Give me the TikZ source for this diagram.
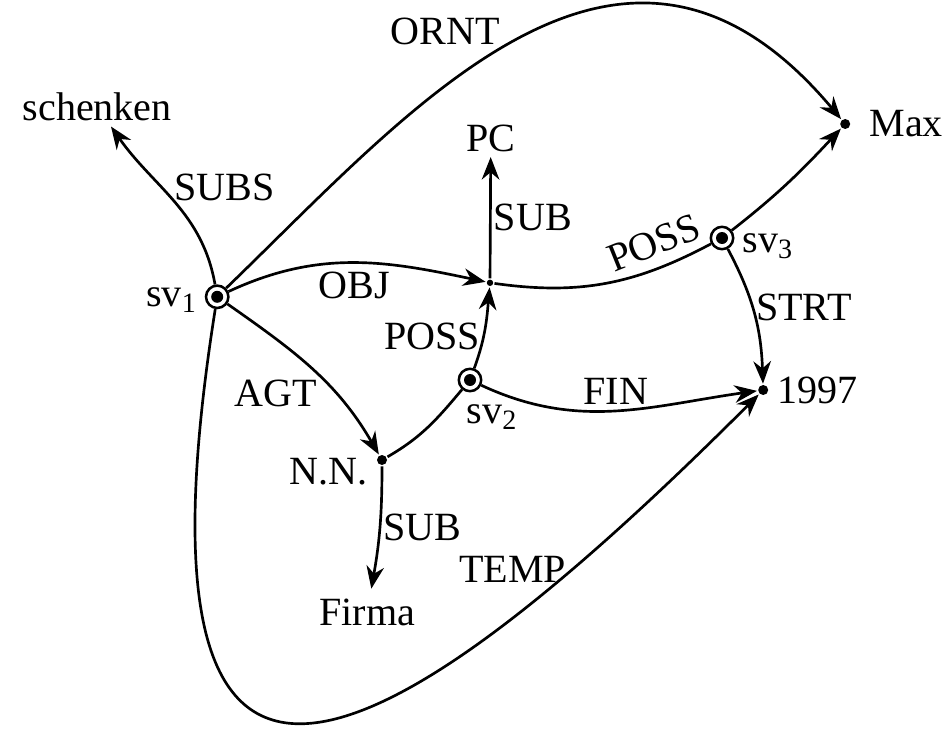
\documentclass[tikz,border=0pt]{standalone}
\usepackage{fontspec}
\setmainfont{Liberation Serif}
\usetikzlibrary{positioning,arrows.meta}

\tikzset{
  sv/.style={circle, draw, line width=1.8pt, minimum size=0.56cm, inner sep=0pt,
    path picture={\fill (path picture bounding box.center) circle (0.15cm);}},
  pnt/.style={circle, fill, minimum size=0.25cm, inner sep=0pt},
  txt/.style={inner sep=2pt, outer sep=2pt},
  lab/.style={inner sep=1.5pt},
}

\begin{document}
\begin{tikzpicture}[line width=1.9pt, >={Stealth[length=16pt,width=12.5pt]},
  font=\fontsize{28.5}{34}\selectfont]
  \useasboundingbox (0,0) rectangle (23.675,18.2);

  % --- semantic nodes ---
  \node[sv] (sv1) at (5.43,10.78) {};
  \node[sv] (sv2) at (11.75,8.7) {};
  \node[sv] (sv3) at (18.05,12.25) {};
  \node[pnt] (nn) at (9.55,6.7) {};
  \node[pnt] (max) at (21.13,15.1) {};
  \node[pnt] (n1997) at (19.08,8.45) {};
  \node[pnt, minimum size=0.16cm] (j) at (12.25,11.13) {};

  % --- concept words ---
  \node[txt] (schenken) at (2.43,15.53) {schenken};
  \node[txt] (pc) at (12.27,14.75) {PC};
  \node[txt, outer sep=5pt] (firma) at (9.18,2.9) {Firma};

  % --- node names ---
  \node (sv1lab) [left=0.05cm of sv1, yshift=-0.08cm] {sv\textsubscript{1}};
  \node (sv2lab) [below=0.15cm of sv2, xshift=0.55cm] {sv\textsubscript{2}};
  \node (sv3lab) [right=0.05cm of sv3, yshift=-0.2cm] {sv\textsubscript{3}};
  \node (nnlab) [left=0.05cm of nn, yshift=-0.3cm] {N.N.};
  \node (maxlab) [right=0.3cm of max] {Max};
  \node (yrlab) [right=0.05cm of n1997] {1997};

  % --- relations ---
  \draw[->] (sv1) to[out=100,in=-55] node[lab, pos=0.6, right=6pt] {SUBS} (schenken);
  \draw[->] (sv1) to[out=44,in=130,out distance=6.5cm,in distance=8.5cm]
    node[lab, pos=0.47, above left=0pt] {ORNT} (max);
  \draw[->] (sv1) to[out=25,in=168] node[lab, midway, below=4pt] {OBJ} (j);
  \draw[->] (sv1) to[out=-35,in=120] node[lab, pos=0.55, below left] {AGT} (nn);
  \draw[->] (sv1) to[out=261,in=225,out distance=15cm,in distance=14cm]
    node[lab, pos=0.83, left=1pt] {TEMP} (n1997);
  \draw (nn) to[out=30,in=230] (sv2);
  \draw[->] (nn) to[out=-90,in=80] node[lab, midway, right] {SUB} (firma);
  \draw[->] (sv2) to[out=70,in=-95] node[lab, pos=0.4, left] {POSS} (j);
  \draw[->] (sv2) to[out=-25,in=188] node[lab, midway, above=2pt] {FIN} (n1997);
  \draw[->] (j) -- node[lab, midway, right] {SUB} (pc);
  \draw (j) to[out=-8,in=208] node[lab, pos=0.78, above=6pt, sloped] {POSS} (sv3);
  \draw[->] (sv3) to[out=38,in=227] (max);
  \draw[->] (sv3) to[out=-62,in=92] node[lab, pos=0.45, right] {STRT} (n1997);
\end{tikzpicture}
\end{document}
